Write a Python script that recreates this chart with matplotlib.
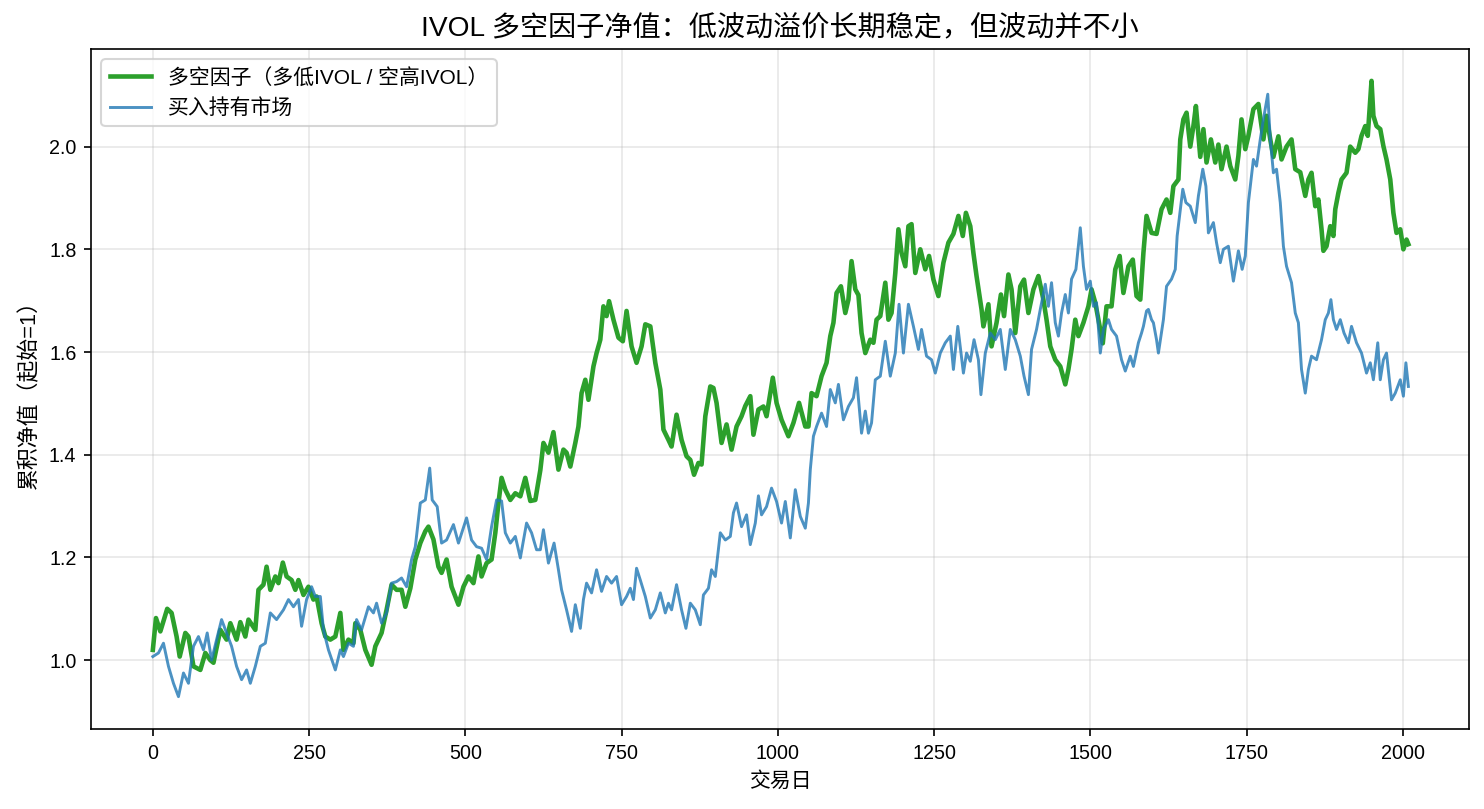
#!/usr/bin/env python3
import matplotlib
matplotlib.use("Agg")
import matplotlib.pyplot as plt

plt.rcParams['font.family'] = ['Liberation Sans', 'Noto Sans CJK SC', 'DejaVu Sans']
plt.rcParams['axes.unicode_minus'] = False

# ---------------------------------------------------
# Data (trading day, net value)
# ---------------------------------------------------
ls_days = [0, 5, 12, 23, 30, 38, 43, 52, 57, 65, 76, 84, 92, 97, 108, 118, 124, 134, 140, 148,
           153, 164, 169, 177, 182, 188, 196, 201, 208, 214, 222, 228, 233, 241, 249, 257, 262,
           270, 276, 284, 292, 300, 305, 313, 321, 324, 332, 340, 350, 356, 366, 374, 382, 390,
           398, 404, 412, 420, 428, 436, 441, 449, 457, 462, 470, 478, 489, 497, 505, 513, 521,
           526, 534, 542, 548, 553, 558, 564, 572, 580, 588, 596, 604, 612, 620, 625, 633, 641,
           649, 657, 662, 668, 676, 681, 686, 692, 697, 705, 710, 716, 721, 726, 730, 737, 745,
           752, 758, 766, 774, 782, 788, 796, 804, 812, 817, 825, 830, 838, 846, 854, 860, 866,
           873, 878, 884, 892, 897, 902, 910, 918, 926, 934, 942, 948, 956, 961, 969, 977, 982,
           992, 998, 1006, 1017, 1025, 1034, 1044, 1049, 1054, 1062, 1070, 1078, 1084, 1089,
           1094, 1101, 1108, 1113, 1118, 1124, 1129, 1134, 1140, 1148, 1153, 1158, 1164, 1172,
           1177, 1182, 1188, 1193, 1198, 1204, 1209, 1214, 1220, 1228, 1236, 1242, 1249, 1257,
           1265, 1273, 1281, 1289, 1296, 1301, 1308, 1313, 1318, 1326, 1329, 1337, 1342, 1350,
           1357, 1362, 1369, 1374, 1380, 1388, 1394, 1401, 1409, 1417, 1425, 1430, 1436, 1444,
           1452, 1460, 1465, 1470, 1476, 1481, 1489, 1497, 1502, 1508, 1515, 1520, 1526, 1534,
           1540, 1547, 1553, 1561, 1568, 1574, 1580, 1585, 1590, 1598, 1606, 1614, 1622, 1628,
           1633, 1641, 1644, 1649, 1654, 1660, 1665, 1669, 1676, 1681, 1686, 1693, 1700, 1705,
           1710, 1718, 1724, 1732, 1737, 1742, 1748, 1753, 1761, 1769, 1777, 1782, 1788, 1793,
           1801, 1806, 1814, 1822, 1828, 1836, 1844, 1849, 1854, 1860, 1865, 1870, 1873, 1878,
           1884, 1889, 1892, 1897, 1902, 1910, 1916, 1924, 1929, 1934, 1940, 1944, 1948, 1950,
           1953, 1958, 1964, 1969, 1974, 1980, 1985, 1990, 1996, 2001, 2006, 2009]
ls_vals = [1.02, 1.082, 1.056, 1.10, 1.092, 1.046, 1.007, 1.053, 1.046, 0.988, 0.981, 1.014, 1.0,
           0.995, 1.059, 1.04, 1.072, 1.04, 1.074, 1.046, 1.079, 1.059, 1.137, 1.147, 1.182, 1.137,
           1.163, 1.15, 1.19, 1.163, 1.156, 1.137, 1.156, 1.127, 1.143, 1.118, 1.124, 1.072, 1.046,
           1.04, 1.046, 1.092, 1.02, 1.04, 1.033, 1.072, 1.059, 1.02, 0.991, 1.027, 1.053, 1.098,
           1.147, 1.137, 1.137, 1.104, 1.14, 1.196, 1.228, 1.251, 1.26, 1.235, 1.182, 1.17, 1.196,
           1.143, 1.108, 1.143, 1.163, 1.15, 1.202, 1.163, 1.189, 1.196, 1.248, 1.306, 1.355,
           1.332, 1.312, 1.325, 1.319, 1.355, 1.31, 1.312, 1.37, 1.423, 1.404, 1.444, 1.371, 1.41,
           1.404, 1.377, 1.423, 1.455, 1.52, 1.546, 1.507, 1.572, 1.598, 1.624, 1.689, 1.67,
           1.699, 1.663, 1.628, 1.621, 1.68, 1.611, 1.579, 1.611, 1.654, 1.65, 1.579, 1.527,
           1.449, 1.429, 1.416, 1.478, 1.429, 1.397, 1.39, 1.361, 1.384, 1.381, 1.475, 1.533,
           1.53, 1.501, 1.423, 1.459, 1.41, 1.455, 1.475, 1.495, 1.514, 1.439, 1.488, 1.494,
           1.475, 1.55, 1.501, 1.468, 1.436, 1.462, 1.501, 1.455, 1.455, 1.52, 1.514, 1.553,
           1.579, 1.631, 1.657, 1.715, 1.728, 1.676, 1.702, 1.777, 1.722, 1.711, 1.637, 1.598,
           1.624, 1.618, 1.663, 1.67, 1.735, 1.663, 1.676, 1.754, 1.839, 1.793, 1.767, 1.845,
           1.849, 1.754, 1.8, 1.761, 1.787, 1.741, 1.709, 1.774, 1.813, 1.83, 1.865, 1.826,
           1.871, 1.845, 1.793, 1.748, 1.683, 1.65, 1.693, 1.611, 1.657, 1.712, 1.67, 1.751,
           1.722, 1.637, 1.728, 1.741, 1.676, 1.722, 1.748, 1.702, 1.663, 1.611, 1.585, 1.572,
           1.537, 1.566, 1.605, 1.663, 1.631, 1.657, 1.689, 1.722, 1.696, 1.65, 1.617, 1.689,
           1.689, 1.761, 1.787, 1.715, 1.767, 1.78, 1.709, 1.702, 1.793, 1.865, 1.832, 1.83,
           1.878, 1.897, 1.871, 1.923, 1.936, 2.014, 2.053, 2.066, 2.0, 2.04, 2.079, 1.98, 2.034,
           1.969, 2.014, 1.969, 2.004, 1.956, 2.0, 1.962, 1.936, 1.982, 2.053, 1.995, 2.021,
           2.073, 2.083, 2.014, 2.06, 2.014, 1.98, 2.02, 1.975, 2.0, 2.014, 1.956, 1.95, 1.904,
           1.936, 1.949, 1.884, 1.897, 1.839, 1.797, 1.806, 1.845, 1.826, 1.878, 1.91, 1.936,
           1.949, 2.0, 1.988, 1.995, 2.021, 2.04, 2.021, 2.093, 2.128, 2.06, 2.04, 2.034, 2.001,
           1.975, 1.936, 1.871, 1.832, 1.839, 1.8, 1.819, 1.81]

mkt_days = [0, 9, 17, 25, 33, 41, 49, 57, 65, 73, 81, 87, 94, 102, 110, 118, 126, 134, 142, 150,
            156, 164, 172, 180, 188, 198, 209, 217, 225, 233, 238, 246, 254, 260, 268, 273, 281,
            292, 300, 305, 313, 321, 326, 334, 345, 353, 358, 366, 374, 382, 390, 398, 406, 414,
            420, 428, 436, 443, 447, 455, 462, 470, 481, 489, 502, 510, 518, 526, 534, 542, 550,
            558, 564, 572, 580, 588, 598, 606, 614, 620, 625, 633, 642, 649, 654, 662, 670, 676,
            684, 689, 694, 702, 710, 718, 726, 734, 742, 750, 758, 764, 769, 774, 780, 788, 796,
            804, 812, 820, 825, 830, 838, 846, 853, 860, 868, 876, 881, 889, 894, 900, 908, 916,
            924, 929, 934, 942, 950, 956, 964, 969, 974, 982, 990, 998, 1006, 1012, 1020, 1028,
            1036, 1044, 1049, 1052, 1057, 1062, 1070, 1078, 1084, 1092, 1097, 1105, 1113, 1121,
            1126, 1134, 1140, 1145, 1150, 1156, 1164, 1172, 1180, 1188, 1194, 1201, 1209, 1217,
            1225, 1230, 1238, 1246, 1252, 1260, 1268, 1276, 1281, 1288, 1297, 1302, 1308, 1314,
            1321, 1325, 1332, 1340, 1348, 1356, 1364, 1372, 1380, 1388, 1394, 1401, 1406, 1414,
            1420, 1428, 1433, 1438, 1444, 1449, 1454, 1460, 1465, 1470, 1477, 1484, 1489, 1494,
            1500, 1505, 1510, 1516, 1521, 1529, 1534, 1542, 1550, 1556, 1564, 1569, 1577, 1582,
            1585, 1590, 1593, 1598, 1601, 1606, 1609, 1617, 1622, 1630, 1636, 1639, 1648, 1653,
            1660, 1668, 1673, 1680, 1685, 1689, 1697, 1702, 1708, 1713, 1721, 1729, 1737, 1743,
            1748, 1753, 1761, 1766, 1772, 1777, 1784, 1788, 1793, 1798, 1804, 1809, 1814, 1822,
            1828, 1833, 1838, 1844, 1849, 1854, 1862, 1870, 1876, 1881, 1885, 1889, 1894, 1900,
            1906, 1913, 1918, 1926, 1934, 1942, 1948, 1953, 1960, 1964, 1969, 1974, 1982, 1988,
            1996, 2001, 2005, 2009]
mkt_vals = [1.007, 1.014, 1.033, 0.988, 0.955, 0.929, 0.975, 0.955, 1.027, 1.046, 1.02, 1.053,
            1.0, 1.04, 1.079, 1.053, 1.027, 0.988, 0.962, 0.981, 0.955, 0.988, 1.027, 1.033,
            1.092, 1.079, 1.098, 1.118, 1.104, 1.118, 1.066, 1.118, 1.143, 1.124, 1.124, 1.059,
            1.02, 0.981, 1.02, 1.007, 1.033, 1.027, 1.079, 1.059, 1.104, 1.092, 1.111, 1.072,
            1.092, 1.15, 1.153, 1.16, 1.143, 1.196, 1.221, 1.306, 1.312, 1.374, 1.312, 1.299,
            1.228, 1.234, 1.264, 1.228, 1.277, 1.234, 1.221, 1.218, 1.196, 1.26, 1.312, 1.31,
            1.248, 1.228, 1.241, 1.199, 1.267, 1.248, 1.215, 1.215, 1.254, 1.189, 1.228, 1.176,
            1.137, 1.098, 1.056, 1.108, 1.062, 1.118, 1.15, 1.131, 1.176, 1.134, 1.163, 1.15,
            1.163, 1.108, 1.124, 1.14, 1.118, 1.179, 1.156, 1.124, 1.082, 1.098, 1.131, 1.092,
            1.111, 1.098, 1.147, 1.098, 1.062, 1.111, 1.098, 1.069, 1.127, 1.14, 1.176, 1.163,
            1.248, 1.234, 1.241, 1.287, 1.306, 1.26, 1.283, 1.225, 1.267, 1.32, 1.283, 1.299,
            1.335, 1.309, 1.267, 1.309, 1.238, 1.332, 1.28, 1.257, 1.306, 1.371, 1.436, 1.455,
            1.481, 1.455, 1.527, 1.501, 1.537, 1.468, 1.494, 1.511, 1.55, 1.442, 1.485, 1.442,
            1.462, 1.546, 1.553, 1.621, 1.553, 1.598, 1.693, 1.598, 1.693, 1.65, 1.605, 1.644,
            1.592, 1.585, 1.559, 1.598, 1.618, 1.631, 1.566, 1.65, 1.559, 1.598, 1.582, 1.624,
            1.585, 1.517, 1.598, 1.637, 1.624, 1.644, 1.566, 1.644, 1.624, 1.592, 1.553, 1.517,
            1.605, 1.644, 1.683, 1.732, 1.689, 1.735, 1.657, 1.631, 1.676, 1.712, 1.676, 1.742,
            1.761, 1.842, 1.767, 1.722, 1.738, 1.689, 1.696, 1.598, 1.644, 1.663, 1.644, 1.631,
            1.585, 1.563, 1.592, 1.572, 1.618, 1.637, 1.65, 1.68, 1.683, 1.663, 1.657, 1.624,
            1.598, 1.663, 1.728, 1.742, 1.761, 1.826, 1.917, 1.891, 1.884, 1.852, 1.904, 1.956,
            1.923, 1.832, 1.852, 1.813, 1.774, 1.8, 1.806, 1.738, 1.797, 1.761, 1.787, 1.891,
            1.975, 1.962, 2.014, 2.053, 2.102, 2.014, 1.949, 1.956, 1.891, 1.806, 1.767, 1.735,
            1.676, 1.657, 1.566, 1.52, 1.566, 1.592, 1.585, 1.624, 1.663, 1.676, 1.702, 1.663,
            1.644, 1.663, 1.637, 1.618, 1.65, 1.618, 1.598, 1.559, 1.579, 1.546, 1.618, 1.546,
            1.585, 1.598, 1.507, 1.52, 1.546, 1.514, 1.579, 1.533]

title = 'IVOL 多空因子净值：低波动溢价长期稳定，但波动并不小'
ls_label = '多空因子（多低IVOL / 空高IVOL）'
mkt_label = '买入持有市场'


def main():
    fig, ax = plt.subplots(figsize=(1484 / 150, 809 / 150), dpi=150)
    fig.subplots_adjust(left=0.0613, right=0.9899, top=0.9394, bottom=0.0989)

    ax.plot(ls_days, ls_vals, color='#2ca02c', lw=2.2, label=ls_label)
    ax.plot(mkt_days, mkt_vals, color='#1f77b4', lw=1.4, alpha=0.8, label=mkt_label)

    ax.set_xlim(-99, 2106)
    ax.set_ylim(0.866, 2.19)
    ax.set_xticks([0, 250, 500, 750, 1000, 1250, 1500, 1750, 2000])
    ax.set_yticks([1.0, 1.2, 1.4, 1.6, 1.8, 2.0])

    ax.set_title(title, fontsize=13.5)
    ax.set_xlabel('交易日', fontsize=10)
    ax.set_ylabel('累积净值（起始=1）', fontsize=10.5)
    ax.tick_params(labelsize=9.5)
    ax.grid(True, alpha=0.3)
    ax.legend(loc='upper left', fontsize=10)

    fig.savefig('out.png', dpi=150)
    plt.close(fig)


if __name__ == "__main__":
    main()
